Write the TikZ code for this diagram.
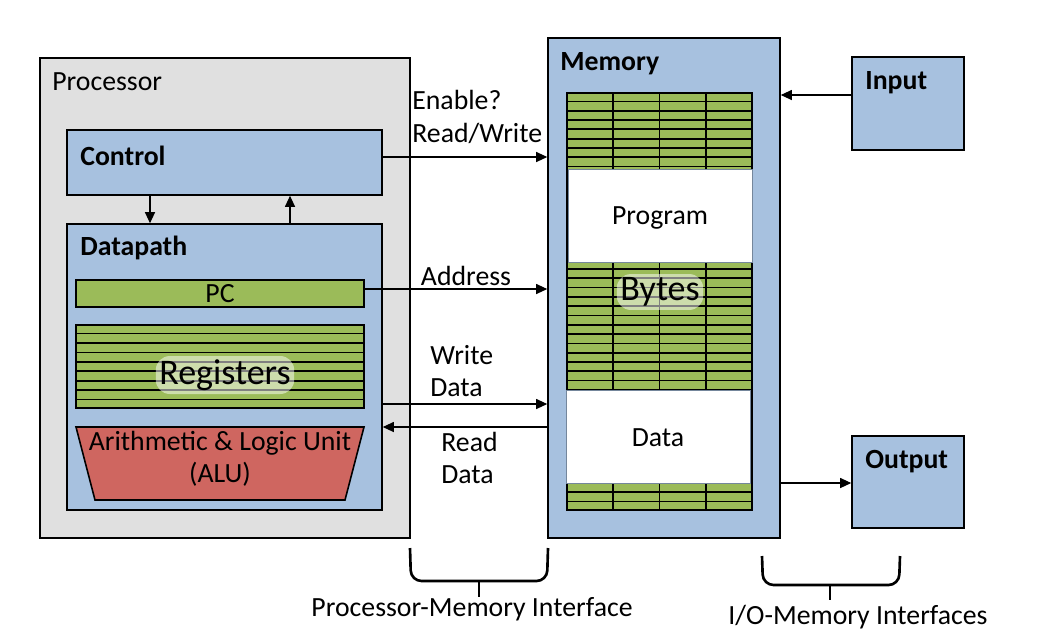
\documentclass[tikz,border=0pt]{standalone}
\usepackage{fontspec}
\setmainfont{Carlito}
\usetikzlibrary{arrows.meta,positioning,fit,calc}
\definecolor{procgray}{RGB}{224,224,224}
\definecolor{blkblue}{RGB}{167,193,223}
\definecolor{cellgreen}{RGB}{155,187,89}
\definecolor{alured}{RGB}{207,102,96}
\tikzset{
  unit/.style={draw,line width=0.9pt,inner sep=0pt},
  blk/.style={draw,line width=0.9pt,fill=blkblue,inner sep=0pt},
  bar/.style={draw,line width=1pt,fill=cellgreen,inner sep=0pt},
  hole/.style={draw=blkblue!70!black,line width=0.4pt,fill=white,inner sep=0pt},
  txt/.style={font=\fontsize{15.8}{18.5}\selectfont,inner sep=0pt},
  ttl/.style={font=\fontsize{15.8}{18.5}\selectfont\bfseries,inner sep=0pt,anchor=west},
  big/.style={font=\fontsize{20.5}{24}\selectfont,fill=white,fill opacity=0.5,
              text opacity=1,rounded corners=8pt,inner sep=2pt},
  arr/.style={-{Triangle[length=0.22cm,width=0.2cm]},line width=0.6pt},
  brc/.style={line width=1.5pt,rounded corners=6pt},
}
\begin{document}
\begin{tikzpicture}[x=0.02cm,y=-0.02cm]
  \useasboundingbox (0,0) rectangle (1040,640);

  % processor
  \node[unit,fill=procgray,fit={(40,58) (410,538)}] (proc) {};
  \node[txt,anchor=west] (proclbl) at (52,82) {Processor};
  \node[blk,fit={(67,130) (382,195)}] (ctrl) {};
  \node[ttl] (ctrllbl) at (80,156) {Control};
  \node[blk,fit={(67,224) (382,510)}] (dp) {};
  \node[ttl] (dplbl) at (80,248) {Datapath};
  \node[bar,fit={(76,280) (364,307)}] (pc) {};
  \node[txt] (pclbl) at (pc.center) {PC};
  \node[bar,fit={(76,325) (364,408)}] (regs) {};
  \foreach \i in {1,...,8}
    \draw[line width=1pt] ($(regs.north west)!\i/9!(regs.south west)$)
      -- ($(regs.north east)!\i/9!(regs.south east)$);
  \node[big] (regslbl) at (225,375) {Registers};
  \filldraw[fill=alured,line width=0.9pt] (76,427) -- (364,427) -- (345,500) -- (95,500) -- cycle;
  \node[txt,align=center] (alu) at (220,459) {Arithmetic \& Logic Unit\\(ALU)};

  % memory
  \node[unit,fill=blkblue,fit={(548,38) (780,538)}] (mem) {};
  \node[ttl] (memlbl) at (560,64) {Memory};
  \node[bar,fit={(567,93) (752,510)}] (cells) {};
  \foreach \i in {1,...,44}
    \draw[line width=1pt] ($(cells.north west)!\i/45!(cells.south west)$)
      -- ($(cells.north east)!\i/45!(cells.south east)$);
  \foreach \j in {1,2,3}
    \draw[line width=1pt] ($(cells.north west)!\j/4!(cells.north east)$)
      -- ($(cells.south west)!\j/4!(cells.south east)$);
  \node[hole,fit={(568,169) (752,262)}] (prog) {};
  \node[txt] (proglbl) at ([yshift=-0.05cm]prog.center) {Program};
  \node[big] (byteslbl) at (660,292) {Bytes};
  \node[hole,fit={(566,390) (750,483)}] (data) {};
  \node[txt] (datalbl) at ([yshift=-0.03cm]data.center) {Data};

  % i/o
  \node[unit,fill=blkblue,fit={(852,57) (964,150)}] (in) {};
  \node[ttl] (inlbl) at (865,83) {Input};
  \node[unit,fill=blkblue,fit={(852,436) (964,528)}] (out) {};
  \node[ttl] (outlbl) at (865,462) {Output};

  % connectors
  \coordinate (dncol) at (150,0);
  \coordinate (upcol) at (290,0);
  \coordinate (rwrow) at (0,157);
  \coordinate (adrow) at (0,289);
  \coordinate (wdrow) at (0,404);
  \coordinate (rdrow) at (0,427);
  \coordinate (inrow) at (0,95);
  \coordinate (outrow) at (0,483);
  \draw[arr] (ctrl.south -| dncol) -- (dp.north -| dncol);
  \draw[arr] (dp.north -| upcol) -- (ctrl.south -| upcol);
  \draw[arr] (ctrl.east |- rwrow) -- (mem.west |- rwrow);
  \draw[arr] (pc.east |- adrow) -- (mem.west |- adrow);
  \draw[arr] (dp.east |- wdrow) -- (mem.west |- wdrow);
  \draw[arr] (mem.west |- rdrow) -- (dp.east |- rdrow);
  \draw[arr] (in.west |- inrow) -- (mem.east |- inrow);
  \draw[arr] (mem.east |- outrow) -- (out.west |- outrow);

  \node[txt,anchor=west,align=left] (rwlbl) at (412,117) {Enable?\\Read/Write};
  \node[txt] (addrlbl) at (466,276) {Address};
  \node[txt,anchor=west,align=left] (wdlbl) at (430,371) {Write\\Data};
  \node[txt,anchor=west,align=left] (rdlbl) at (441,458) {Read\\Data};

  % braces
  \draw[brc] (410,548) -- (411,581) -- (479,581) -- (547,581) -- (548,548);
  \draw[brc] (479,580) -- (479,597);
  \node[txt] (pmi) at (472,609) {Processor-Memory Interface};
  \draw[brc] (762,556) -- (763,585) -- (830,585) -- (899,585) -- (900,556);
  \draw[brc] (830,584) -- (830,600);
  \node[txt] (iomi) at (858,617) {I/O-Memory Interfaces};
\end{tikzpicture}
\end{document}
